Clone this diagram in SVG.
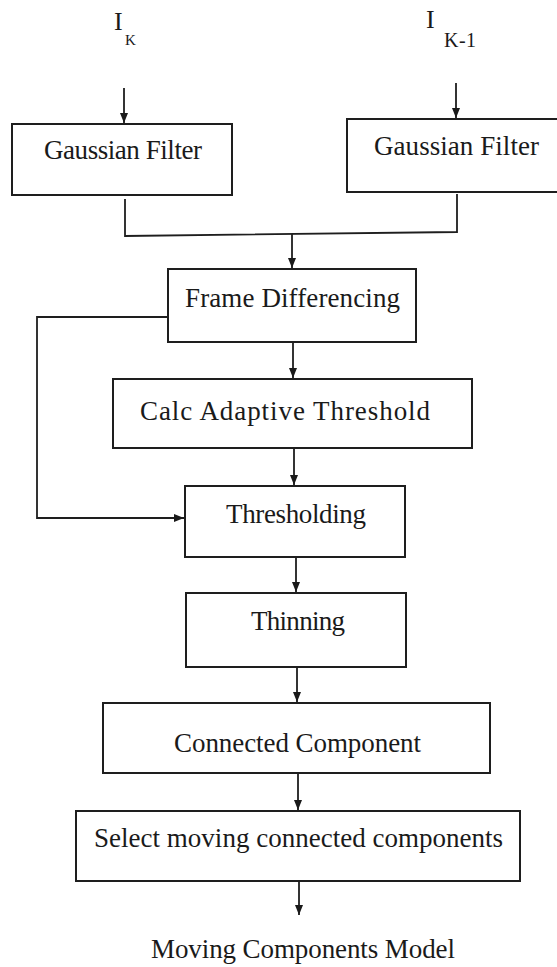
<svg xmlns="http://www.w3.org/2000/svg" width="557" height="967" viewBox="0 0 557 967">
<defs>
<marker id="ah" viewBox="0 0 10 8" markerWidth="10" markerHeight="8" refX="10" refY="4" orient="auto" markerUnits="userSpaceOnUse">
<path d="M0,0 L10,4 L0,8 z" fill="#1a1a1a"/>
</marker>
</defs>
<style>
.box{fill:#fff;stroke:#1e1e1e;stroke-width:2}
.lbl{font-family:"Liberation Serif","Times New Roman",serif;font-size:27px;fill:#1a1a1a}
.sub{font-family:"Liberation Serif","Times New Roman",serif;fill:#1a1a1a}
.con{fill:none;stroke:#1e1e1e;stroke-width:1.8}
</style>
<rect width="557" height="967" fill="#fff"/>
<g id="input-ik">
<text class="sub" x="114" y="30" font-size="26">I</text>
<text class="sub" x="125" y="45" font-size="15" fill="#555">K</text>
</g>
<g id="input-ik1">
<text class="sub" x="426" y="28" font-size="26">I</text>
<text class="sub" x="444" y="47" font-size="20" textLength="32" lengthAdjust="spacing">K-1</text>
</g>
<g id="gauss-left">
<rect class="box" x="12" y="124" width="220" height="71"/>
<text class="lbl" x="44" y="159" textLength="158" lengthAdjust="spacing">Gaussian Filter</text>
</g>
<g id="gauss-right">
<rect class="box" x="347" y="119" width="215" height="73"/>
<text class="lbl" x="374" y="155" textLength="165" lengthAdjust="spacing">Gaussian Filter</text>
</g>
<g id="frame-diff">
<rect class="box" x="168" y="269" width="248" height="73"/>
<text class="lbl" x="185" y="307" textLength="215" lengthAdjust="spacing">Frame Differencing</text>
</g>
<g id="calc-threshold">
<rect class="box" x="113" y="379" width="359" height="69"/>
<text class="lbl" x="140" y="420" textLength="290" lengthAdjust="spacing">Calc Adaptive Threshold</text>
</g>
<g id="thresholding">
<rect class="box" x="185" y="486" width="220" height="71"/>
<text class="lbl" x="226" y="523" textLength="140" lengthAdjust="spacing">Thresholding</text>
</g>
<g id="thinning">
<rect class="box" x="186" y="593" width="220" height="74"/>
<text class="lbl" x="251" y="630" textLength="94" lengthAdjust="spacing">Thinning</text>
</g>
<g id="connected-component">
<rect class="box" x="103" y="703" width="387" height="70"/>
<text class="lbl" x="174" y="752" textLength="247" lengthAdjust="spacing">Connected Component</text>
</g>
<g id="select-moving">
<rect class="box" x="76" y="811" width="444" height="70"/>
<text class="lbl" x="94" y="847" textLength="409" lengthAdjust="spacing">Select moving connected components</text>
</g>
<g id="output">
<text class="lbl" x="151" y="958" textLength="304" lengthAdjust="spacing">Moving Components Model</text>
</g>
<g id="connectors">
<line class="con" x1="124" y1="88" x2="124" y2="123" marker-end="url(#ah)"/>
<line class="con" x1="456" y1="83" x2="456" y2="118" marker-end="url(#ah)"/>
<path class="con" d="M125,199 V236 L457,232 V194"/>
<line class="con" x1="292" y1="234" x2="292" y2="268" marker-end="url(#ah)"/>
<line class="con" x1="293" y1="342" x2="293" y2="378" marker-end="url(#ah)"/>
<path class="con" d="M168,317 H37 V518 H184" marker-end="url(#ah)"/>
<line class="con" x1="294" y1="448" x2="294" y2="485" marker-end="url(#ah)"/>
<line class="con" x1="296" y1="557" x2="296" y2="592" marker-end="url(#ah)"/>
<line class="con" x1="297" y1="667" x2="297" y2="702" marker-end="url(#ah)"/>
<line class="con" x1="298" y1="773" x2="298" y2="810" marker-end="url(#ah)"/>
<line class="con" x1="299" y1="881" x2="299" y2="915" marker-end="url(#ah)"/>
</g>
</svg>
